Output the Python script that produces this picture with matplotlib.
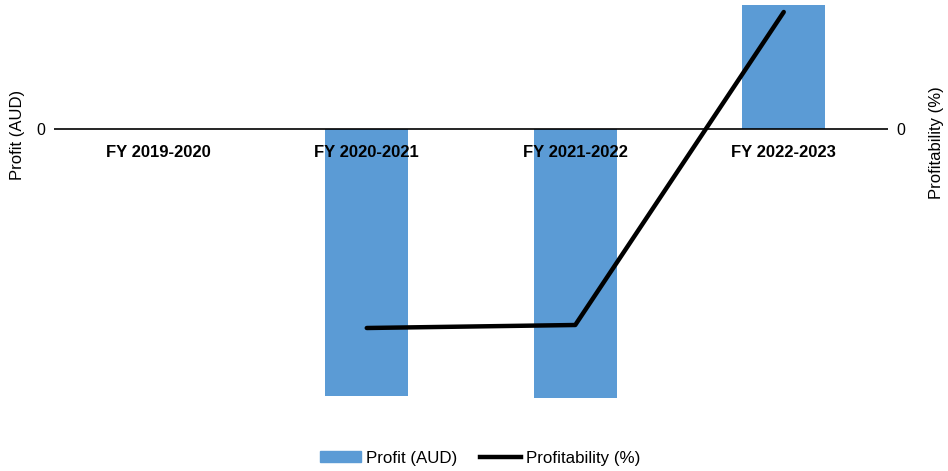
import numpy as np
import matplotlib.pyplot as plt
from matplotlib.patches import Patch
from matplotlib.lines import Line2D

plt.rcParams['font.family'] = ['Liberation Sans', 'DejaVu Sans']

# --- DATA ---
categories = ["FY 2019-2020", "FY 2020-2021", "FY 2021-2022", "FY 2022-2023"]
profit_aud = [0, -267000, -268500, 124000]
profitability_pct = [np.nan, -19.9, -19.6, 11.7]

BAR_COLOR = "#5B9BD5"

fig = plt.figure(figsize=(9.48, 4.71), dpi=100)
W, H = 948, 471
ax_left, ax_right, ax_top, ax_bottom = 54, 888, 4, 410
ax = fig.add_axes([ax_left / W, 1 - ax_bottom / H, (ax_right - ax_left) / W, (ax_bottom - ax_top) / H])
ax2 = ax.twinx()

x = np.arange(len(categories))
ax.bar(x, profit_aud, width=0.4, color=BAR_COLOR, zorder=2)
ax.axhline(0, color="black", lw=1.2, zorder=3)
ax2.plot(x, profitability_pct, color="black", lw=3.2, solid_capstyle="round", zorder=4)

ax.set_xlim(-0.5, len(categories) - 0.5)
ax.set_ylim(-281000, 125000)
ax2.set_ylim(-28.1, 12.5)

for a in (ax, ax2):
    for s in a.spines.values():
        s.set_visible(False)
    a.set_yticks([0])
    a.set_yticklabels(["0"], fontsize=11.5)
    a.tick_params(axis="y", length=0, pad=6)
ax.set_xticks([])

# category labels just below the zero line
for xi, lab in zip(x, categories):
    ax.annotate(lab, (xi, 0), xytext=(0, -17), textcoords="offset points",
                ha="center", va="center", fontsize=12, fontweight="bold")

fig.text(18 / W, 1 - 135 / H, "Profit (AUD)", rotation=90, ha="center", va="center", fontsize=12)
fig.text(937 / W, 1 - 143 / H, "Profitability (%)", rotation=90, ha="center", va="center", fontsize=12)

handles = [Patch(color=BAR_COLOR, label="Profit (AUD)"),
           Line2D([0], [0], color="black", lw=3.2, label="Profitability (%)")]
fig.legend(handles=handles, loc="center", bbox_to_anchor=(480 / W, 1 - 458 / H), ncol=2,
           frameon=False, fontsize=12.2, handlelength=2.4, handleheight=0.6,
           handletextpad=0.3, columnspacing=1.35)

fig.savefig("out.png", dpi=100)
